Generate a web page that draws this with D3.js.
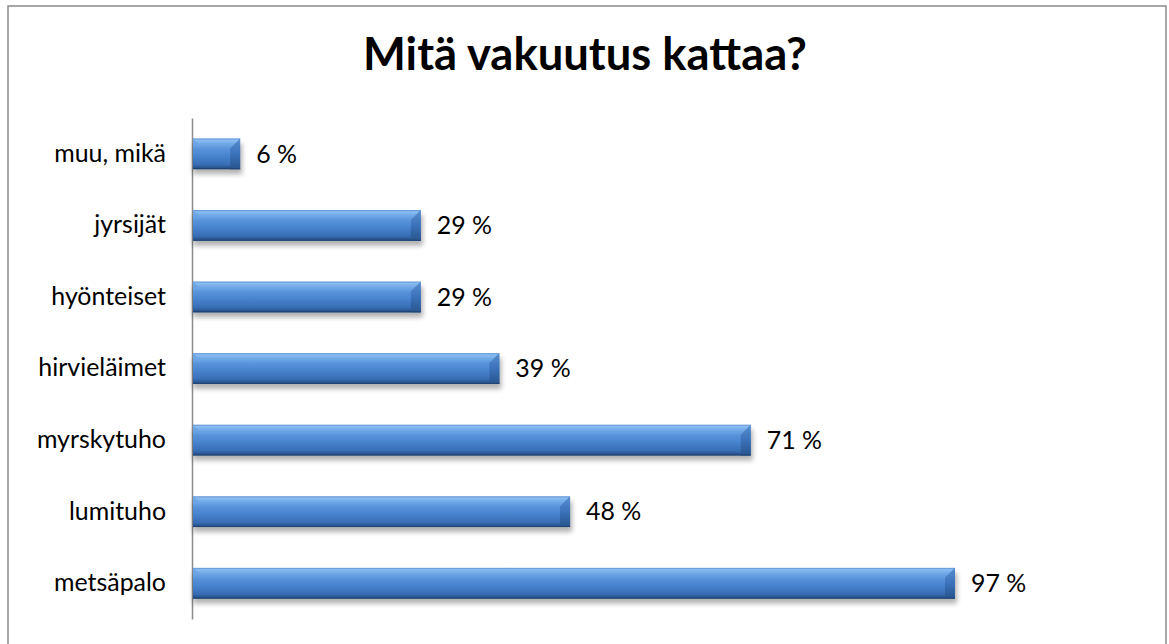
<!DOCTYPE html>
<html><head><meta charset="utf-8">
<script src="https://cdn.jsdelivr.net/npm/d3@7"></script>
<style>html,body{margin:0;padding:0;background:#fff;overflow:hidden}</style>
</head><body>
<svg id="c" width="1169" height="644"></svg>
<script>
const title = "Mitä vakuutus kattaa?";
const categories = ["muu, mikä","jyrsijät","hyönteiset","hirvieläimet","myrskytuho","lumituho","metsäpalo"];
const values = [6, 29, 29, 39, 71, 48, 97];
const valueLabels = ["6 %","29 %","29 %","39 %","71 %","48 %","97 %"];

const svg = d3.select("#c");
const font = "Lato, 'Open Sans', sans-serif";
const defs = svg.append("defs");
const g1 = defs.append("linearGradient").attr("id","barg").attr("x1",0).attr("y1",0).attr("x2",0).attr("y2",1);
[[0,"#5a90d4"],[0.06,"#8cbdf0"],[0.16,"#74abe9"],[0.35,"#5792da"],[0.6,"#4681cc"],[0.85,"#386db4"],[0.93,"#2c5a97"],[1,"#234a7e"]]
  .forEach(([o,c])=>g1.append("stop").attr("offset",o).attr("stop-color",c));
const g2 = defs.append("linearGradient").attr("id","bevg").attr("x1",0).attr("y1",0).attr("x2",0).attr("y2",1);
[[0,"#5a8ed0"],[0.5,"#3b72ba"],[1,"#28548c"]].forEach(([o,c])=>g2.append("stop").attr("offset",o).attr("stop-color",c));
const f = defs.append("filter").attr("id","sh").attr("x","-10%").attr("y","-50%").attr("width","120%").attr("height","200%");
f.append("feGaussianBlur").attr("stdDeviation",2.5);

// outer border
svg.append("rect").attr("x",8).attr("y",6).attr("width",1158).attr("height",660)
  .attr("fill","none").attr("stroke","#8c8c8c").attr("stroke-width",1.5);

// title
const t = svg.append("text").attr("x",585).attr("y",70).attr("text-anchor","middle")
  .attr("font-family",font).attr("font-weight","bold").attr("font-size",40).attr("fill","#000").text(title);
const tw = t.node().getComputedTextLength();
t.attr("font-size", 40*444/tw);

const x = d3.scaleLinear().domain([0,97]).range([193,955]);
const y = d3.scaleBand().domain(categories).range([118,619]).paddingInner(0.57).paddingOuter(0.285);

// axis
const ax = svg.append("g").attr("transform","translate(192,0)").call(d3.axisLeft(y).tickSize(0).tickPadding(26));
ax.select(".domain").attr("stroke","#8c8c8c").attr("stroke-width",1.5);
ax.selectAll("text").attr("font-family",font).attr("font-size",20).attr("fill","#000");
// fit label size to reference width of "metsäpalo" (~112px)
let ref = ax.selectAll("text").filter(d=>d==="metsäpalo").node().getComputedTextLength();
const labelSize = 20*112/ref;
ax.selectAll("text").attr("font-size",labelSize);

const bh = y.bandwidth();
const bars = svg.append("g").selectAll("g").data(categories).join("g");
bars.append("rect").attr("x",d=>x(0)).attr("y",d=>y(d)+5).attr("width",(d,i)=>x(values[i])-x(0)+2).attr("height",bh)
  .attr("fill","#000").attr("opacity",0.3).attr("filter","url(#sh)");
bars.append("rect").attr("x",x(0)).attr("y",d=>y(d)).attr("width",(d,i)=>x(values[i])-x(0)).attr("height",bh)
  .attr("fill","url(#barg)");
const b = 10;
bars.append("polygon").attr("points",(d,i)=>{
  const x1=x(values[i]), y0=y(d), y1=y(d)+bh;
  return [[x1,y0],[x1-b,y0+b],[x1-b,y1],[x1,y1]].join(" ");
}).attr("fill","url(#bevg)");
bars.append("polygon").attr("points",(d,i)=>{
  const x0=x(0), y0=y(d);
  return [[x0,y0],[x0+8,y0+8],[x0,y0+8]].join(" ");
}).attr("fill","#6aa2e4").attr("opacity",0.8);
bars.append("line").attr("x1",x(0)).attr("x2",(d,i)=>x(values[i])).attr("y1",d=>y(d)+bh-0.5).attr("y2",d=>y(d)+bh-0.5)
  .attr("stroke","#1f4474").attr("stroke-width",1);

const vl = bars.append("text").attr("x",(d,i)=>x(values[i])+16).attr("y",d=>y(d)+bh/2).attr("dy","0.35em")
  .attr("font-family",font).attr("font-size",labelSize).attr("fill","#000").text((d,i)=>valueLabels[i]);
</script>
</body></html>
